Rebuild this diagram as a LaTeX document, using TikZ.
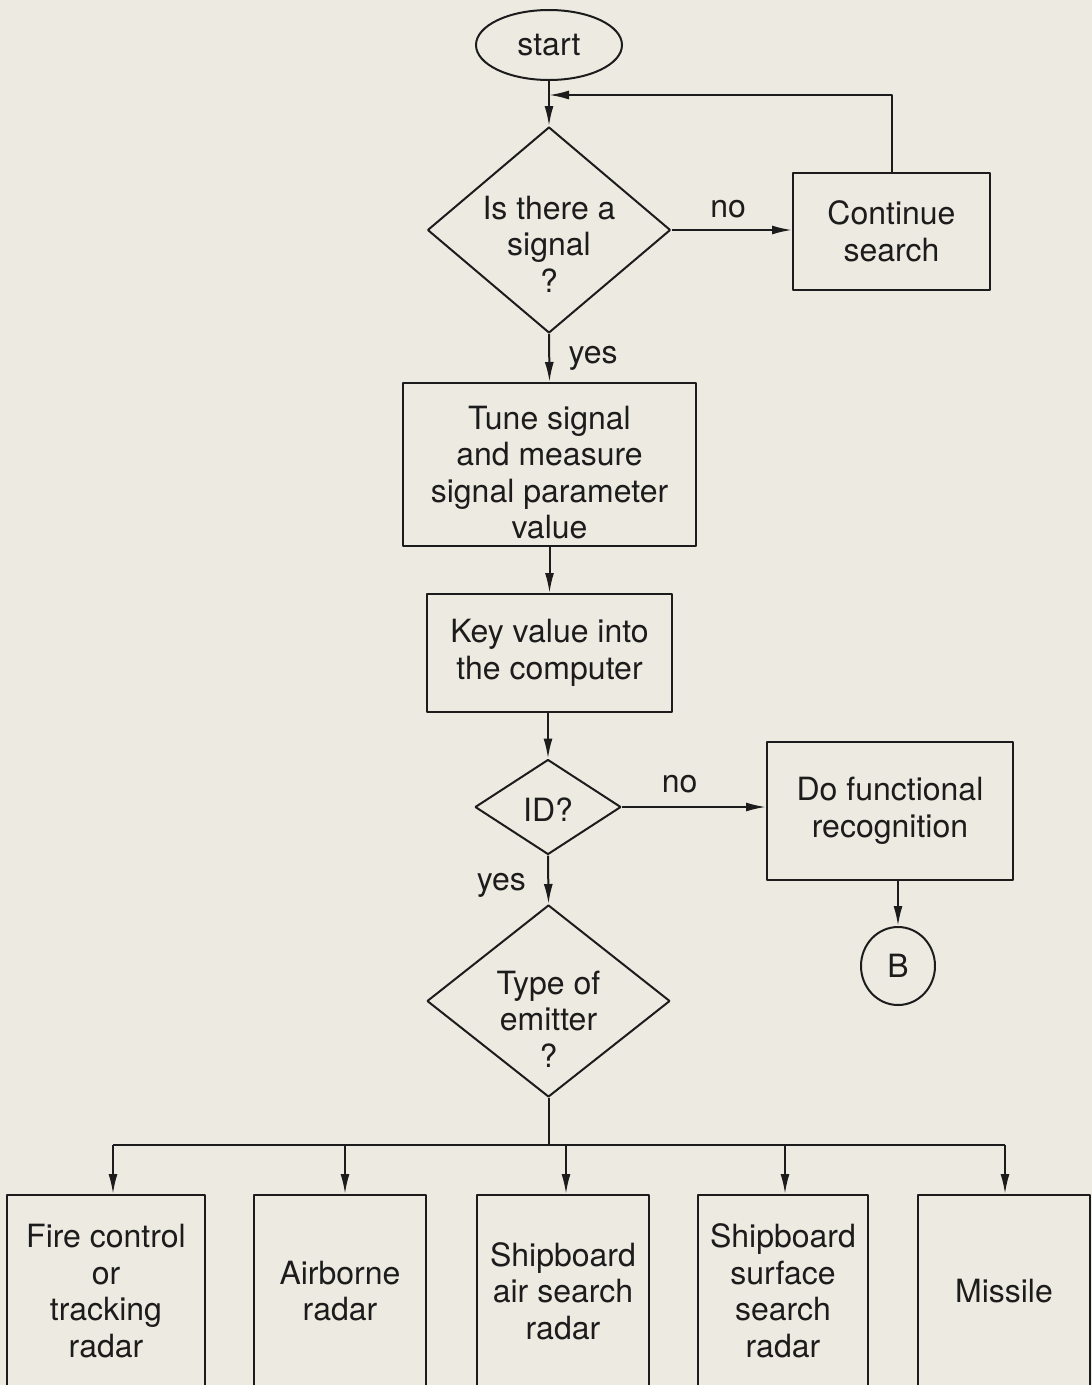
\documentclass[tikz,border=0pt]{standalone}
\usepackage{fontspec}
\setmainfont{TeX Gyre Heros}
\usetikzlibrary{arrows.meta,shapes.geometric}

\definecolor{paper}{RGB}{237,235,225}
\definecolor{ink}{RGB}{28,28,28}

\tikzset{
  box/.style={draw=ink,rectangle,align=center,text=ink,inner sep=0pt},
  decision/.style={draw=ink,diamond,inner sep=0pt},
  terminal/.style={draw=ink,ellipse,text=ink,inner sep=0pt},
  lbl/.style={align=center,text=ink},
  radarbox/.style={box,anchor=north,minimum height=192pt},
}

\begin{document}
\begin{tikzpicture}[x=1pt,y=-1pt,>={Latex[length=20pt,width=9pt]},line join=bevel,
  font=\fontsize{32}{36.5}\selectfont]

\pgfsetlinewidth{2pt}
\path[fill=paper,use as bounding box] (0,0) rectangle (1092,1385);

% Node: start
\node[terminal,minimum width=146pt,minimum height=70pt] (start) at (549,45) {start};

% Node: signal
\node[decision,minimum width=243pt,minimum height=206pt,
  label={[lbl,yshift=-14pt]center:{Is there a\\signal\\?}}] (signal) at (549,230) {};

% Node: cont
\node[box,minimum width=197pt,minimum height=117pt] (cont) at (891.5,231.5) {Continue\\search};

% Node: tune
\node[box,minimum width=293pt,minimum height=163pt,
  label={[lbl,yshift=-8pt]center:{Tune signal\\and measure\\signal parameter\\value}}] (tune) at (549.5,464.5) {};

% Node: key
\node[box,minimum width=245pt,minimum height=118pt] (key) at (549.5,653) {Key value into\\the computer};

% Node: id
\node[decision,minimum width=146pt,minimum height=95pt,
  label={[lbl,yshift=-3pt]center:ID?}] (id) at (548,807) {};

% Node: func
\node[box,minimum width=246pt,minimum height=138pt] (func) at (890,811) {Do functional\\recognition};

% Node: B
\node[terminal,minimum width=74pt,minimum height=78pt] (B) at (898,966) {B};

% Node: type
\node[decision,minimum width=243pt,minimum height=192pt,
  label={[lbl,yshift=-18pt]center:{Type of\\emitter\\?}}] (type) at (548.5,1001) {};

% Node: radar boxes
\node[radarbox,minimum width=198pt] (fire) at (106,1194) {Fire control\\or\\tracking\\radar};
\node[radarbox,minimum width=172pt] (air) at (340,1194) {Airborne\\radar};
\node[radarbox,minimum width=172pt] (ship) at (563,1194) {Shipboard\\air search\\radar};
\node[radarbox,minimum width=170pt] (surf) at (783,1194) {Shipboard\\surface\\search\\radar};
\node[radarbox,minimum width=172pt] (missile) at (1004,1194) {Missile};

\begin{scope}[draw=ink]
% Edge: start -> signal
\draw [->] (start.south) -- (signal.north);

% Edge: signal -> cont
\draw [->] (signal.east) -- node[lbl,above=8pt,pos=0.47] {no} (signal.east -| cont.west);

% Edge: cont -> signal (loop back)
\coordinate (join) at (549,95);
\draw [->] (cont.north) |- (join);

% Edge: signal -> tune
\draw [->] (signal.south) -- node[lbl,right=15pt] {yes} (tune.north);

% Edge: tune -> key
\draw [->] (tune.south) -- (key.north);

% Edge: key -> id
\draw [->] (key.south -| id.north) -- (id.north);

% Edge: id -> func
\draw [->] (id.east) -- node[lbl,above=10pt,pos=0.4] {no} (id.east -| func.west);

% Edge: func -> B
\draw [->] (B.north |- func.south) -- (B.north);

% Edge: id -> type
\draw [->] (id.south) -- node[lbl,left=18pt,pos=0.62] {yes} (type.north);

% Edge: type -> radar boxes
\coordinate (bus) at (548.5,1145);
\coordinate (d1) at (113,1145);
\coordinate (d2) at (345,1145);
\coordinate (d3) at (566,1145);
\coordinate (d4) at (785,1145);
\coordinate (d5) at (1005,1145);
\draw (type.south) -- (bus);
\draw (d1) -- (d5);
\draw [->] (d1) -- (d1 |- fire.north);
\draw [->] (d2) -- (d2 |- air.north);
\draw [->] (d3) -- (d3 |- ship.north);
\draw [->] (d4) -- (d4 |- surf.north);
\draw [->] (d5) -- (d5 |- missile.north);
\end{scope}

\end{tikzpicture}
\end{document}
